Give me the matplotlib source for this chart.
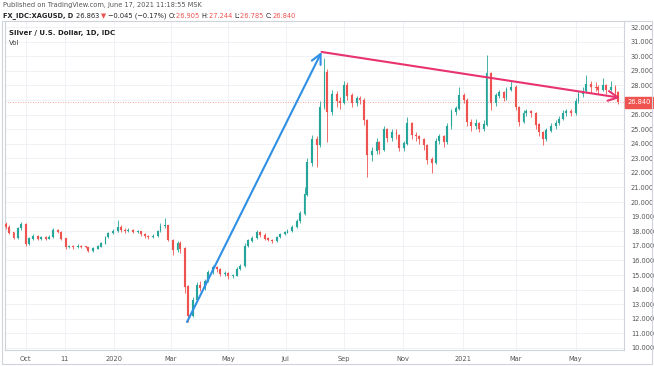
import matplotlib
matplotlib.use("Agg")
import matplotlib.pyplot as plt
import matplotlib.dates as mdates
from matplotlib.transforms import blended_transform_factory
from matplotlib.patches import Rectangle
import pandas as pd
import numpy as np

# ---- data (3-trading-day candles) ----
first_open = 18.45
close_px = [18.30, 17.90, 17.55, 18.20, 18.50, 17.10, 17.50, 17.65, 17.50, 17.60,
            17.50, 17.60, 18.05, 17.95, 17.50, 16.90, 16.95, 16.90, 17.00, 16.95,
            16.90, 16.65, 16.80, 16.95, 17.15, 17.60, 17.85, 18.00, 18.30, 18.10,
            18.05, 18.10, 17.95, 18.00, 17.80, 17.65, 17.60, 17.65, 18.00, 18.35,
            18.40, 17.40, 16.70, 17.15, 16.80, 14.20, 12.20, 13.30, 14.30, 14.10,
            14.60, 15.20, 15.50, 15.40, 15.10, 15.15, 14.90, 14.95, 15.40, 15.60,
            17.00, 17.35, 17.55, 17.90, 17.75, 17.50, 17.40, 17.30, 17.60, 17.80,
            17.90, 18.00, 18.30, 18.70, 19.20, 20.50, 22.70, 24.30, 23.90, 26.50,
            28.90, 26.20, 27.40, 26.90, 26.80, 28.00, 27.30, 26.80, 27.10, 27.00,
            25.60, 23.20, 23.50, 24.10, 23.60, 25.00, 24.40, 24.80, 24.60, 23.70,
            24.00, 25.40, 24.60, 24.50, 24.30, 23.90, 22.90, 22.70, 24.20, 24.50,
            24.10, 25.20, 26.20, 26.40, 27.30, 27.00, 25.50, 25.20, 25.40, 25.00,
            25.30, 28.80, 26.80, 27.30, 27.50, 27.10, 27.70, 27.90, 26.50, 25.50,
            26.10, 26.20, 26.10, 25.30, 24.80, 24.30, 24.90, 25.20, 25.40, 25.70,
            26.10, 26.20, 26.10, 26.90, 27.40, 27.60, 28.10, 27.90, 27.85, 27.70,
            28.00, 27.70, 27.90, 27.50, 26.84]
high_px = [18.62, 18.40, 17.98, 18.30, 18.65, 18.55, 17.60, 17.80, 17.75, 17.70,
           17.68, 17.72, 18.20, 18.15, 18.00, 17.55, 17.05, 17.05, 17.10, 17.08,
           17.02, 16.95, 16.90, 17.05, 17.25, 17.70, 17.95, 18.15, 18.80, 18.40,
           18.20, 18.25, 18.18, 18.10, 18.05, 17.85, 17.75, 17.78, 18.10, 18.55,
           18.90, 18.45, 17.50, 17.30, 17.30, 16.90, 14.30, 13.50, 14.50, 14.60,
           14.75, 15.35, 15.70, 15.65, 15.45, 15.25, 15.20, 15.10, 15.55, 15.75,
           17.20, 17.50, 17.70, 18.10, 18.00, 17.85, 17.60, 17.50, 17.70, 17.90,
           18.05, 18.15, 18.45, 18.85, 19.40, 21.00, 23.00, 24.60, 24.50, 26.90,
           29.90, 29.10, 27.70, 27.60, 27.20, 28.30, 28.20, 27.50, 27.30, 27.30,
           27.10, 25.70, 23.80, 24.40, 24.20, 25.20, 25.10, 25.00, 25.00, 24.70,
           24.20, 25.80, 25.50, 24.80, 24.60, 24.40, 24.00, 23.10, 24.40, 24.70,
           24.60, 25.40, 26.40, 26.60, 27.90, 27.50, 27.10, 25.70, 25.70, 25.50,
           25.60, 30.07, 28.90, 27.50, 27.70, 27.60, 27.90, 28.30, 28.00, 26.60,
           26.30, 26.40, 26.30, 26.20, 25.40, 24.90, 25.10, 25.40, 25.60, 25.90,
           26.30, 26.40, 26.40, 27.10, 27.60, 27.90, 28.70, 28.30, 28.20, 28.00,
           28.50, 28.10, 28.30, 28.00, 27.60]
low_px = [18.15, 17.80, 17.45, 17.50, 18.10, 17.00, 17.05, 17.40, 17.42, 17.40,
          17.42, 17.45, 17.55, 17.85, 17.40, 16.80, 16.82, 16.80, 16.85, 16.85,
          16.82, 16.55, 16.60, 16.75, 16.90, 17.10, 17.55, 17.80, 17.95, 17.95,
          17.90, 17.95, 17.85, 17.85, 17.70, 17.55, 17.50, 17.52, 17.60, 17.95,
          18.20, 17.30, 16.40, 16.60, 16.50, 13.80, 11.75, 12.10, 13.20, 13.90,
          14.00, 14.50, 15.10, 15.20, 14.95, 14.95, 14.75, 14.80, 14.90, 15.35,
          15.55, 16.90, 17.25, 17.50, 17.60, 17.40, 17.30, 17.20, 17.25, 17.55,
          17.75, 17.85, 17.95, 18.25, 18.60, 19.10, 20.40, 22.50, 22.40, 23.80,
          26.40, 24.10, 26.00, 26.50, 26.40, 26.70, 27.00, 26.50, 26.60, 26.70,
          25.30, 21.75, 22.80, 23.30, 23.30, 23.50, 24.10, 24.20, 24.30, 23.50,
          23.50, 23.90, 24.30, 24.20, 24.00, 23.60, 22.60, 22.00, 22.60, 24.00,
          23.80, 24.00, 25.00, 26.00, 26.30, 26.80, 25.20, 24.90, 25.00, 24.80,
          24.90, 25.20, 26.30, 26.60, 27.10, 26.90, 27.00, 27.60, 26.30, 25.20,
          25.40, 25.90, 25.80, 25.00, 24.50, 23.90, 24.20, 24.80, 25.00, 25.30,
          25.60, 25.90, 25.90, 26.00, 26.80, 27.20, 27.50, 27.50, 27.60, 27.40,
          27.60, 27.40, 27.60, 27.30, 26.70]
last_price = 26.84
price_ticks = list(range(10, 33))
tick_dates = ["2019-10-01", "2019-11-11", "2020-01-02", "2020-03-02", "2020-05-01",
              "2020-07-01", "2020-09-01", "2020-11-02", "2021-01-04", "2021-03-01",
              "2021-05-03"]
tick_labels = ["Oct", "11", "2020", "Mar", "May", "Jul", "Sep", "Nov", "2021", "Mar", "May"]
# drawn trend arrows
blue_dates = ["2020-03-19", "2020-08-08"]
blue_prices = [11.78, 30.29]
red_dates = ["2020-08-08", "2021-06-19"]
red_prices = [30.29, 27.15]

UP = "#26a69a"
DOWN = "#ef5350"

dates = pd.bdate_range(end="2021-06-17", periods=len(close_px), freq="3B")
x = mdates.date2num(dates.to_pydatetime())
close_a = np.array(close_px)
open_a = np.concatenate([[first_open], close_a[:-1]])
high_a = np.array(high_px)
low_a = np.array(low_px)
colors = [UP if c >= o else DOWN for o, c in zip(open_a, close_a)]

W, H = 654, 366
fig = plt.figure(figsize=(W / 100, H / 100), dpi=100)
fig.patch.set_facecolor("white")

# outer chart frame
fig.patches.append(Rectangle((2 / W, 2 / H), 650 / W, (H - 23) / H, transform=fig.transFigure,
                             fill=False, edgecolor="#cfd3da", lw=0.8))

ax = fig.add_axes([5 / W, 16 / H, 619 / W, (350 - 22) / H])
ax.set_facecolor("white")

ax.vlines(x, low_a, high_a, colors=colors, lw=0.6, zorder=3)
ax.bar(x, np.abs(close_a - open_a) + 0.02, bottom=np.minimum(open_a, close_a),
       width=2.0, color=colors, edgecolor=colors, lw=0.1, zorder=4)

ax.axhline(last_price, color=DOWN, ls=(0, (1, 2)), lw=0.6, alpha=0.7, zorder=2)

bx = mdates.date2num(pd.to_datetime(blue_dates).to_pydatetime())
rx = mdates.date2num(pd.to_datetime(red_dates).to_pydatetime())
ax.annotate("", xy=(bx[1], blue_prices[1]), xytext=(bx[0], blue_prices[0]),
            arrowprops=dict(arrowstyle="->,head_length=0.7,head_width=0.35", color="#2e8fe6",
                            lw=1.5, shrinkA=0, shrinkB=0), zorder=6)
ax.annotate("", xy=(rx[1], red_prices[1]), xytext=(rx[0], red_prices[0]),
            arrowprops=dict(arrowstyle="->,head_length=0.7,head_width=0.35", color="#e8336e",
                            lw=1.5, shrinkA=0, shrinkB=0), zorder=6)

ax.set_xlim(mdates.date2num(pd.Timestamp("2019-09-09")), mdates.date2num(pd.Timestamp("2021-06-23")))
ax.set_ylim(32 - (350 - 27) / 14.59, 32 + 5 / 14.59)

ax.set_yticks(price_ticks)
# the 27.000 label is covered by the last-price tag in the reference
ax.set_yticklabels(["" if v == 27 else f"{v:.3f}" for v in price_ticks])
ax.yaxis.tick_right()
ax.set_xticks(mdates.date2num(pd.to_datetime(tick_dates).to_pydatetime()))
ax.set_xticklabels(tick_labels)
ax.tick_params(axis="both", length=0, labelsize=4.8, colors="#555555")
ax.tick_params(axis="y", pad=5)
ax.tick_params(axis="x", pad=4)
ax.grid(True, color="#eef0f4", lw=0.6, zorder=0)
for s in ["left", "right", "bottom"]:
    ax.spines[s].set_color("#cfd3da")
    ax.spines[s].set_linewidth(0.8)
ax.spines["top"].set_visible(False)

tr = blended_transform_factory(ax.transAxes, ax.transData)
ax.text(1.006, last_price, "26.840", transform=tr, fontsize=4.8, color="white",
        ha="left", va="center", zorder=10, clip_on=False,
        bbox=dict(boxstyle="square,pad=0.35", facecolor=DOWN, edgecolor=DOWN))

ax.text(0.006, 0.975, "Silver / U.S. Dollar, 1D, IDC", transform=ax.transAxes, fontsize=5,
        color="#222222", fontweight="bold", ha="left", va="top")
ax.text(0.006, 0.945, "Vol", transform=ax.transAxes, fontsize=5, color="#444444",
        ha="left", va="top")

# header
fig.text(3 / W, 1 - 5 / H, "Published on TradingView.com, June 17, 2021 11:18:55 MSK",
         fontsize=4.8, color="#555555", ha="left", va="center")
segments = [("FX_IDC:XAGUSD, D ", "#222222", "bold"), ("26.863 ", "#222222", "normal"),
            ("▼ ", DOWN, "normal"), ("−0.045 (−0.17%) ", "#222222", "normal"),
            ("O:", "#222222", "normal"), ("26.905 ", DOWN, "normal"),
            ("H:", "#222222", "normal"), ("27.244 ", DOWN, "normal"),
            ("L:", "#222222", "normal"), ("26.785 ", DOWN, "normal"),
            ("C:", "#222222", "normal"), ("26.840", DOWN, "normal")]
fig.canvas.draw()
renderer = fig.canvas.get_renderer()
cx = 3
for s, col, wt in segments:
    t = fig.text(cx / W, 1 - 16 / H, s, fontsize=4.8, color=col, fontweight=wt,
                 ha="left", va="center")
    bb = t.get_window_extent(renderer=renderer)
    cx += bb.width

fig.savefig("out.png", dpi=100, facecolor="white")
